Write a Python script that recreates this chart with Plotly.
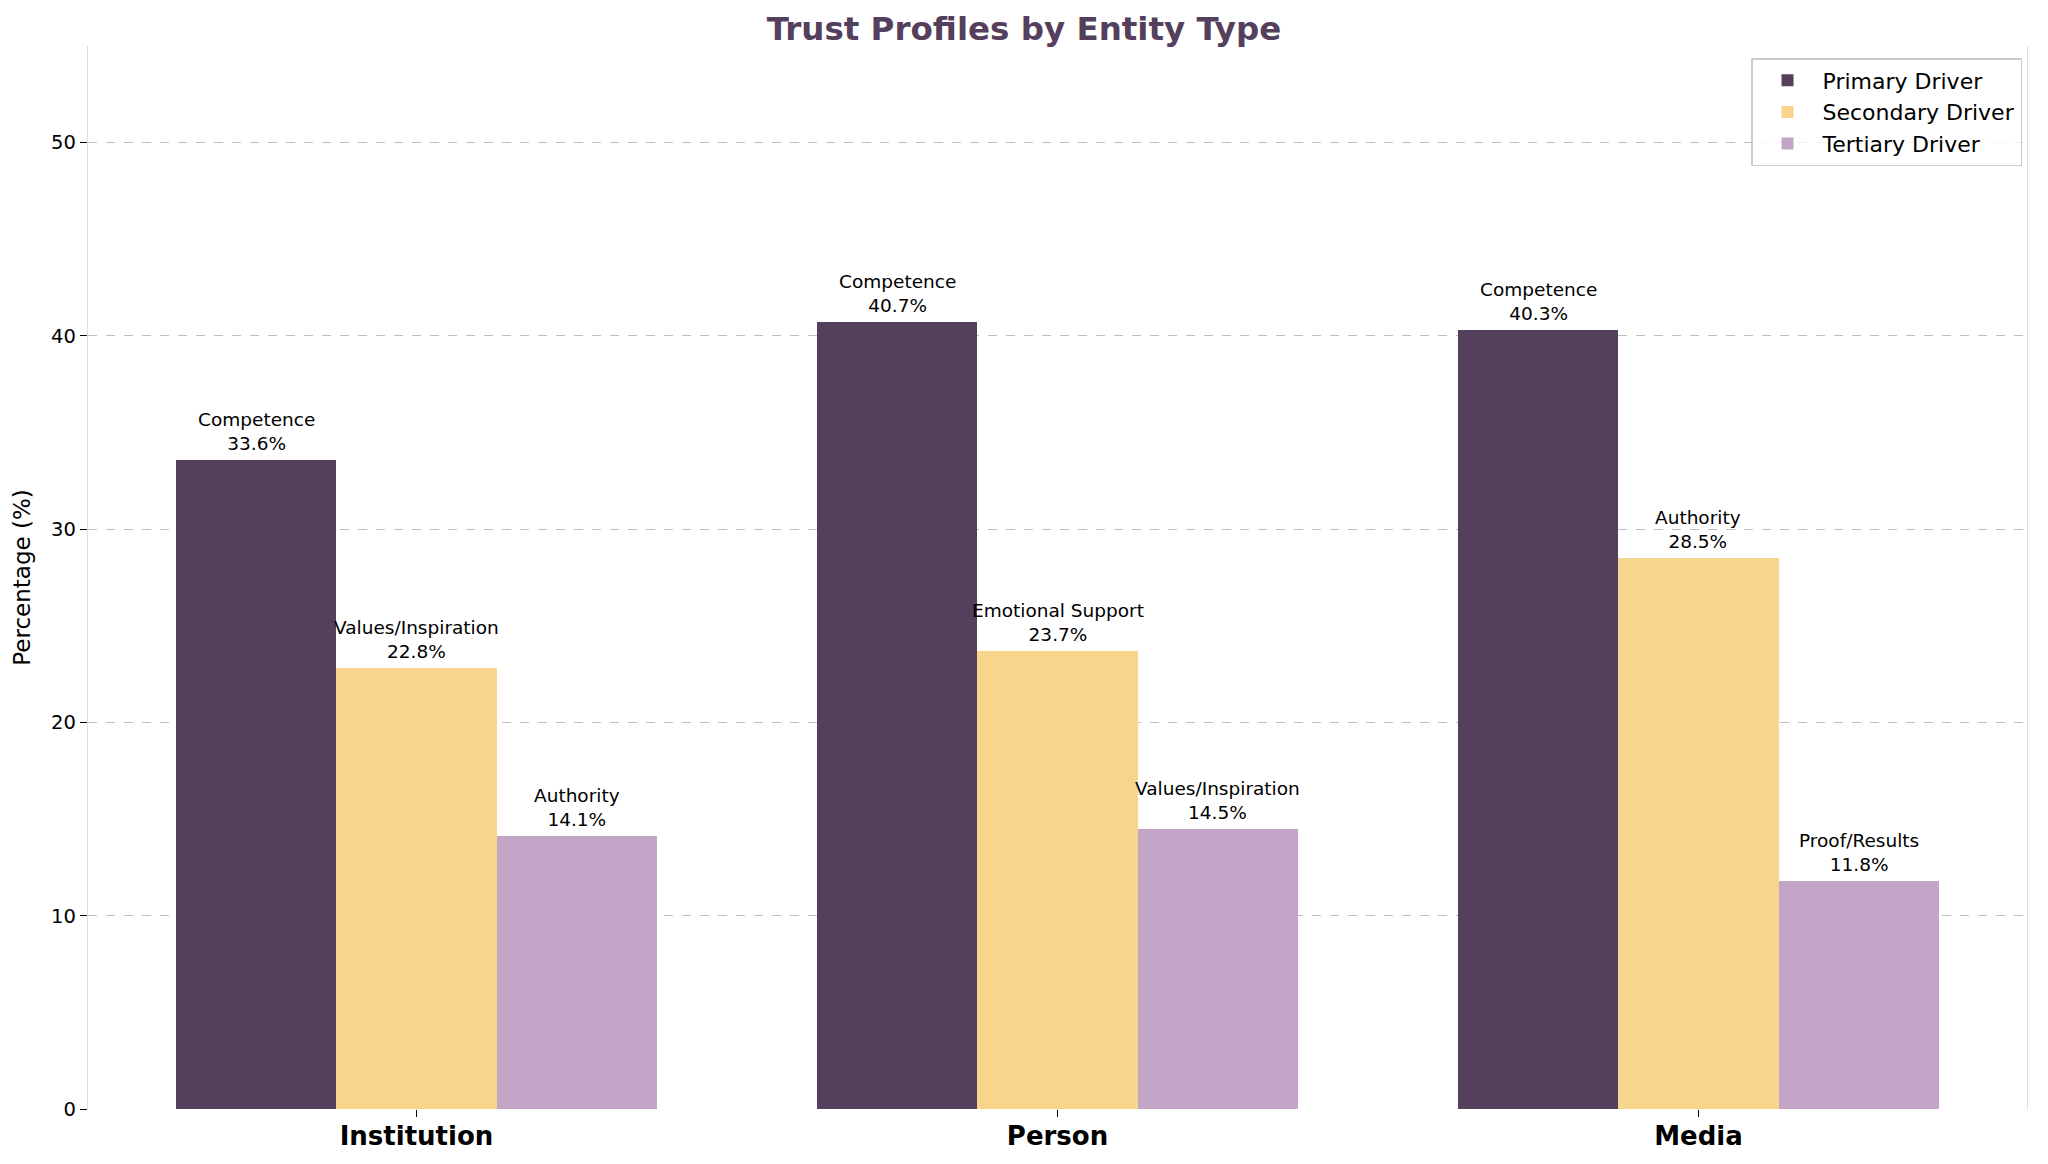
import plotly.graph_objects as go

categories = ["Institution", "Person", "Media"]
series_names = ["Primary Driver", "Secondary Driver", "Tertiary Driver"]
primary_values = [33.6, 40.7, 40.3]
secondary_values = [22.8, 23.7, 28.5]
tertiary_values = [14.1, 14.5, 11.8]
primary_labels = ["Competence", "Competence", "Competence"]
secondary_labels = ["Values/Inspiration", "Emotional Support", "Authority"]
tertiary_labels = ["Authority", "Values/Inspiration", "Proof/Results"]
y_ticks = [0, 10, 20, 30, 40, 50]

colors = ["#54405C", "#F8D58C", "#C3A5C8"]
offsets = [-0.25, 0.0, 0.25]
bar_width = 0.25
FONT = "DejaVu Sans"

all_values = [primary_values, secondary_values, tertiary_values]
all_labels = [primary_labels, secondary_labels, tertiary_labels]

fig = go.Figure()
annotations = []
for s, name in enumerate(series_names):
    xs = [i + offsets[s] for i in range(len(categories))]
    fig.add_trace(go.Bar(
        x=xs, y=all_values[s], width=bar_width, name=name,
        marker=dict(color=colors[s], line=dict(width=0)),
        hoverinfo="skip",
    ))
    for x, v, lab in zip(xs, all_values[s], all_labels[s]):
        annotations.append(dict(
            x=x, y=v, xref="x", yref="y", text=f"{lab}<br>{v:.1f}%",
            showarrow=False, yanchor="bottom", xanchor="center", yshift=4,
            font=dict(family=FONT, size=18.5, color="#000000"), align="center",
        ))

fig.update_layout(
    width=2048, height=1164,
    margin=dict(l=87.5, r=21, t=46, b=55, autoexpand=False),
    paper_bgcolor="white", plot_bgcolor="white",
    font=dict(family=FONT, color="#000000"),
    title=dict(text="Trust Profiles by Entity Type", x=0.5, xanchor="center",
               y=1 - 29 / 1164, yanchor="middle", yref="container",
               font=dict(family=FONT, size=32.5, color="#54405C", weight="bold")),
    showlegend=True,
    legend=dict(x=1 - 5 / 1939.5, xanchor="right", y=1 - 12 / 1063, yanchor="top",
                bgcolor="rgba(255,255,255,0.8)", bordercolor="#cccccc", borderwidth=1.5,
                font=dict(family=FONT, size=22, color="#000000"),
                itemwidth=60),
    annotations=annotations,
    bargap=0,
)
fig.update_xaxes(
    range=[-0.5125, 2.5125], tickvals=list(range(len(categories))), ticktext=categories,
    tickfont=dict(family=FONT, size=26, color="#000000", weight="bold"),
    ticks="outside", ticklen=7, tickcolor="#000000", tickwidth=1.3,
    ticklabelstandoff=-3,
    showgrid=False, zeroline=False, showline=False,
)
fig.update_yaxes(
    range=[0, 55], tickvals=y_ticks,
    tickfont=dict(family=FONT, size=19.5, color="#000000"),
    ticks="outside", ticklen=7, tickcolor="#000000", tickwidth=1.3,
    showgrid=True, gridcolor="#bfbfbf", griddash="dash", gridwidth=1.2,
    zeroline=False, showline=True, linecolor="#dddddd", linewidth=1.3, mirror=True,
    layer="above traces",
    title=dict(text="Percentage (%)", font=dict(family=FONT, size=23, color="#000000"), standoff=14),
)

fig.write_html("out.html", config={"displayModeBar": False},
               post_script="document.body.style.margin='0';document.body.style.overflow='hidden';")
